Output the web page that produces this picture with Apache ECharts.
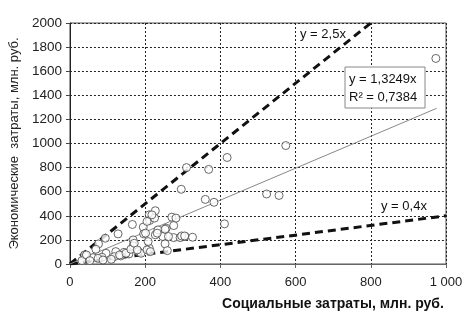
<!DOCTYPE html>
<html><head><meta charset="utf-8">
<script src="https://cdn.jsdelivr.net/npm/echarts@6/dist/echarts.min.js"></script>
<style>html,body{margin:0;padding:0;background:#fff}#c{width:472px;height:320px}</style>
</head><body><div id="c"></div>
<script>
const xTicks = ['0','200','400','600','800','1 000'];
const yTicks = ['0','200','400','600','800','1000','1200','1400','1600','1800','2000'];
const socX = [973,574,418,310,369,296,360,383,523,556,411,227,211,212,166,128,94,76,69,39,32,195,196,168,168,144,122,96,85,61,118,135,157,182,211,208,227,234,247,256,271,282,276,276,293,306,326,253,259,225,44,53,75,132,149,162,171,189,88,110,218,205,253,232,201,262,297,305,179,205,214];
const ecoY = [1706,983,884,800,785,620,536,512,581,569,333,442,408,361,328,250,214,167,122,75,28,306,250,200,150,97,103,89,56,53,61,67,83,103,131,186,242,283,228,297,389,381,319,219,219,228,222,167,111,381,75,28,47,75,89,122,172,89,33,39,408,353,289,256,256,228,233,233,117,117,103];
const line25 = [[0,0],[800,2000]];
const line04 = [[0,0],[1000,400]];
const trend = [[0,0],[975,1291.8]];
const trendText = ['y = 1,3249x','R² = 0,7384'];

const chart = echarts.init(document.getElementById('c'), null, {renderer:'canvas'});
const pts = socX.map((x,i)=>[x, ecoY[i]]);
const font = 'Liberation Sans';
chart.setOption({
  animation:false,
  grid:{left:67,right:26,top:23,bottom:56,show:true,borderColor:'#555',borderWidth:1},
  xAxis:{type:'value',min:0,max:1000,interval:200,
    name:'Социальные затраты, млн. руб.',nameLocation:'middle',nameGap:33,
    nameTextStyle:{fontFamily:font,fontSize:14,fontWeight:'bold',color:'#111',padding:[0,0,0,150]},
    axisLine:{lineStyle:{color:'#666',width:1}},
    axisTick:{show:true,length:4,lineStyle:{color:'#666'}},
    axisLabel:{fontFamily:font,fontSize:13,color:'#222',margin:12,formatter:(v)=>xTicks[Math.round(v/200)]},
    splitLine:{show:true,lineStyle:{color:'#222',type:[2,2],width:1}}},
  yAxis:{type:'value',min:0,max:2000,interval:200,
    name:'Экономические  затраты, млн. руб.',nameLocation:'middle',nameGap:45,nameRotate:90,
    nameTextStyle:{fontFamily:font,fontSize:13,color:'#222'},
    axisLine:{show:true,lineStyle:{color:'#222',width:1}},
    axisTick:{show:true,length:4,lineStyle:{color:'#444'}},
    axisLabel:{fontFamily:font,fontSize:13.5,color:'#222',margin:8,formatter:(v)=>yTicks[Math.round(v/200)]},
    splitLine:{show:true,lineStyle:{color:'#222',type:[2,2],width:1}}},
  series:[
    {type:'line',data:line25,symbol:'none',lineStyle:{color:'#111',width:3,type:[8,5]},z:3},
    {type:'line',data:line04,symbol:'none',lineStyle:{color:'#111',width:3,type:[8,5]},z:3},
    {type:'line',data:trend,symbol:'none',lineStyle:{color:'#888',width:1},z:3},
    {type:'scatter',data:pts,symbol:'circle',symbolSize:8,
      itemStyle:{color:'#fff',borderColor:'#444',borderWidth:1},z:4}
  ],
  graphic:[
    {type:'text',left:300,top:28,style:{text:'y = 2,5x',fontFamily:font,fontSize:13,fill:'#111'},z:10},
    {type:'rect',shape:{x:345,y:67,width:80,height:41},style:{fill:'#fff',stroke:'#888',lineWidth:1},z:10},
    {type:'text',left:349,top:70,style:{text:trendText.join('\n'),fontFamily:font,fontSize:13,lineHeight:18,fill:'#111'},z:11},
    {type:'text',left:381,top:200,style:{text:'y = 0,4x',fontFamily:font,fontSize:13,fill:'#111'},z:10}
  ]
});
</script></body></html>
